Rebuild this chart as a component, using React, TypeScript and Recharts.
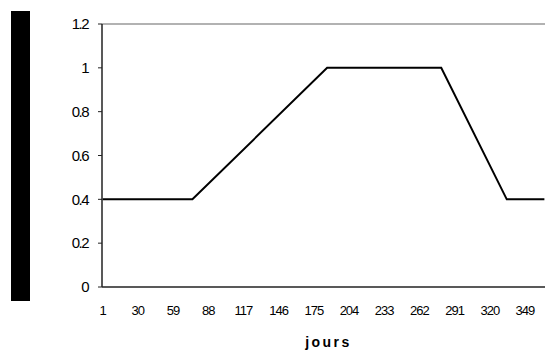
import React from "react";
import { LineChart, Line, XAxis, YAxis, ReferenceLine } from "recharts";

const days = [1, 75, 186, 280, 334, 365];
const values = [0.4, 0.4, 1, 1, 0.4, 0.4];
const xLabels = [1, 30, 59, 88, 117, 146, 175, 204, 233, 262, 291, 320, 349];
const xTickMarks = [25.5, 51.5, 76.5, 102.5, 127.5, 153, 178, 204, 229, 255, 280, 305.5, 331, 356.5];
const yTicks = [0, 0.2, 0.4, 0.6, 0.8, 1, 1.2];

const data = days.map((d, i) => ({ day: d, value: values[i] }));

export default function App() {
  return (
    <div style={{ position: "fixed", left: 0, top: 0, width: 550, height: 352, background: "#fff" }}>
      <div style={{ position: "absolute", left: 11, top: 11, width: 19, height: 290, background: "#000" }} />
      <LineChart
        width={550}
        height={352}
        data={data}
        margin={{ top: 24, right: 5, bottom: 0, left: 0 }}
        style={{ fontFamily: "Arial, 'Liberation Sans', sans-serif" }}
      >
        <XAxis
          xAxisId="marks"
          dataKey="day"
          type="number"
          domain={[0.5, 365.5]}
          ticks={xTickMarks}
          tick={false}
          axisLine={false}
          tickLine={{ stroke: "#222" }}
          tickSize={4}
          height={0}
        />
        <XAxis
          dataKey="day"
          type="number"
          domain={[0.5, 365.5]}
          ticks={xLabels}
          interval={0}
          axisLine={{ stroke: "#222", strokeWidth: 1.5 }}
          tickLine={{ stroke: "none" }}
          tickSize={4}
          tickMargin={15}
          tick={{ fill: "#000", fontSize: 13, letterSpacing: -1 }}
          height={65}
          label={{ value: "jours", position: "insideBottom", offset: 5, fill: "#000", fontSize: 14, fontWeight: "bold", letterSpacing: 2.5, dx: 5 }}
        />
        <YAxis
          type="number"
          domain={[0, 1.2]}
          ticks={yTicks}
          interval={0}
          width={102}
          axisLine={{ stroke: "#222", strokeWidth: 1.5 }}
          tickLine={{ stroke: "#222" }}
          tickSize={4}
          tickMargin={10}
          tick={{ fill: "#000", fontSize: 15, letterSpacing: -1.5 }}
        />
        <ReferenceLine y={1.2} stroke="#999" strokeWidth={1.5} />
        <Line
          dataKey="value"
          stroke="#000"
          strokeWidth={2}
          dot={false}
          isAnimationActive={false}
        />
      </LineChart>
    </div>
  );
}
